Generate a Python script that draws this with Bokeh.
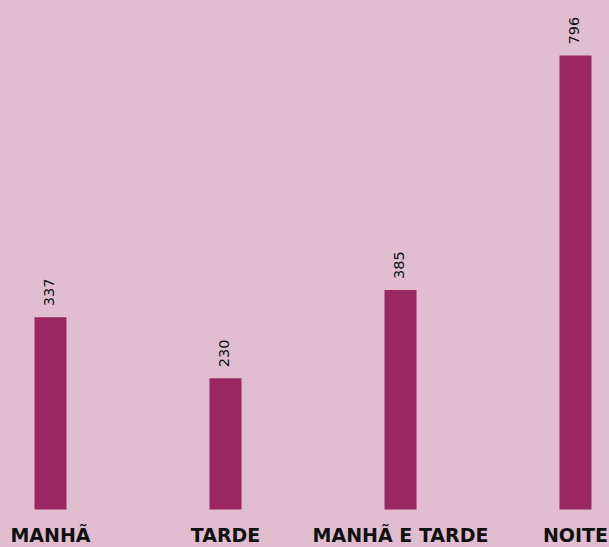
import math
from bokeh.plotting import figure
from bokeh.models import ColumnDataSource, Range1d, GlobalInlineStyleSheet
from bokeh.core.properties import value
from bokeh.embed import file_html
from bokeh.resources import INLINE

categories = ["MANHÃ", "TARDE", "MANHÃ E TARDE", "NOITE"]
counts = [337, 230, 385, 796]
value_labels = ["337", "230", "385", "796"]

BG = "#E0BED0"
BAR = "#9B2762"

xs = list(range(len(categories)))
src = ColumnDataSource(data=dict(x=xs, cat=categories, v=counts, lab=value_labels,
                                 zero=[0] * len(categories)))

p = figure(width=609, height=547, output_backend="svg", toolbar_location=None,
           x_range=Range1d(-0.2857, 3.1943), y_range=Range1d(-66.6, 892.4),
           min_border=0, min_border_left=0, min_border_right=0,
           min_border_top=0, min_border_bottom=0)
p.axis.visible = False
p.grid.visible = False
p.outline_line_color = None
p.background_fill_color = BG
p.border_fill_color = BG

p.vbar(x="x", top="v", bottom=0, width=0.183, source=src,
       fill_color=BAR, line_color=None)

p.text(x="x", y="v", text="lab", source=src, angle=math.pi / 2,
       text_align="left", text_baseline="middle", y_offset=-11, x_offset=-1,
       text_font=value("DejaVu Sans"), text_font_size="14.5px", text_color="#111111")

p.text(x="x", y="zero", text="cat", source=src, text_align="center",
       text_baseline="alphabetic", y_offset=25,
       text_font=value("DejaVu Sans"), text_font_style="bold",
       text_font_size="19px", text_color="#111111")

p.stylesheets = [
    GlobalInlineStyleSheet(css=f"html, body {{ margin: 0; padding: 0; overflow: hidden; background-color: {BG}; }}"),
]

open("out.html", "w").write(file_html(p, INLINE))
